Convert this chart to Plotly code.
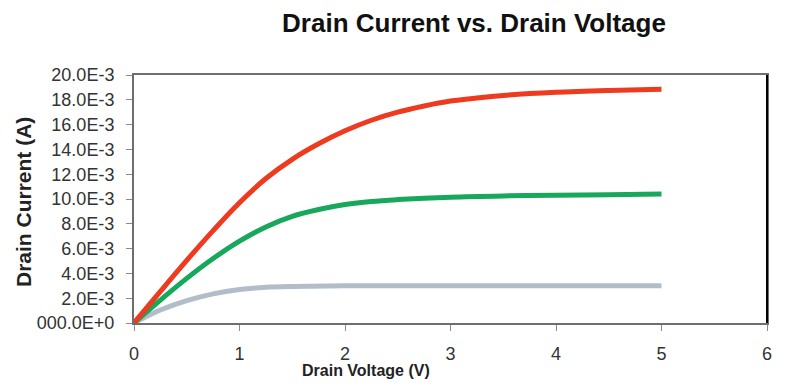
import plotly.graph_objects as go

# Drain voltage (V) and drain current (A) for three curves
voltage_red = [0, 0.25, 0.5, 0.75, 1.0, 1.25, 1.5, 1.75, 2.0, 2.25, 2.5, 2.75, 3.0, 3.25, 3.5, 4.0, 4.5, 5.0]
current_red = [0, 2.55e-3, 5.05e-3, 7.45e-3, 9.7e-3, 11.65e-3, 13.2e-3, 14.45e-3, 15.5e-3, 16.35e-3,
               17.0e-3, 17.5e-3, 17.9e-3, 18.15e-3, 18.35e-3, 18.6e-3, 18.75e-3, 18.85e-3]

voltage_green = [0, 0.25, 0.5, 0.75, 1.0, 1.25, 1.5, 1.75, 2.0, 2.25, 2.5, 3.0, 3.5, 4.0, 4.5, 5.0]
current_green = [0, 1.85e-3, 3.6e-3, 5.2e-3, 6.6e-3, 7.75e-3, 8.6e-3, 9.15e-3, 9.55e-3, 9.8e-3,
                 9.95e-3, 10.15e-3, 10.25e-3, 10.3e-3, 10.35e-3, 10.4e-3]

voltage_gray = [0, 0.1, 0.25, 0.5, 0.75, 1.0, 1.25, 1.5, 2.0, 3.0, 4.0, 5.0]
current_gray = [0, 0.45e-3, 1.05e-3, 1.8e-3, 2.35e-3, 2.7e-3, 2.88e-3, 2.95e-3, 3.0e-3, 3.0e-3, 3.0e-3, 3.0e-3]

y_tick_values = [0, 2e-3, 4e-3, 6e-3, 8e-3, 10e-3, 12e-3, 14e-3, 16e-3, 18e-3, 20e-3]
y_tick_labels = ["000.0E+0", "2.0E-3", "4.0E-3", "6.0E-3", "8.0E-3", "10.0E-3",
                 "12.0E-3", "14.0E-3", "16.0E-3", "18.0E-3", "20.0E-3"]
x_tick_values = [0, 1, 2, 3, 4, 5, 6]
x_tick_labels = ["0", "1", "2", "3", "4", "5", "6"]

fig = go.Figure()
series = [
    (voltage_gray, current_gray, "#b3bdca"),
    (voltage_green, current_green, "#17a85b"),
    (voltage_red, current_red, "#ee3a1e"),
]
for xs, ys, col in series:
    fig.add_trace(go.Scatter(x=xs, y=ys, mode="lines",
                             line=dict(color=col, width=5, shape="spline", smoothing=1.0),
                             showlegend=False, hoverinfo="skip"))

tick_font = dict(family="Liberation Sans, Arial, sans-serif", size=18, color="#333333")

fig.update_layout(
    width=788, height=392,
    margin=dict(l=134, r=21, t=75, b=69),
    paper_bgcolor="white", plot_bgcolor="white",
    title=dict(text="<b>Drain Current vs. Drain Voltage</b>",
               font=dict(family="Liberation Sans, Arial, sans-serif", size=26, color="#111111"),
               x=474 / 788, xanchor="center", y=1 - 23 / 392, yanchor="middle"),
    xaxis=dict(range=[0, 6], tickvals=x_tick_values, ticktext=x_tick_labels,
               showgrid=False, zeroline=False,
               showline=True, linecolor="#6e6e6e", linewidth=2, mirror=True,
               ticks="outside", ticklen=6, tickcolor="#8a8a8a", tickwidth=1,
               tickfont=tick_font, ticklabelstandoff=7),
    yaxis=dict(range=[0, 20e-3], tickvals=y_tick_values, ticktext=y_tick_labels,
               showgrid=False, zeroline=False,
               showline=True, linecolor="#6e6e6e", linewidth=2, mirror=True,
               ticks="outside", ticklen=6, tickcolor="#8a8a8a", tickwidth=1,
               tickfont=tick_font, ticklabelstandoff=8),
    annotations=[
        dict(text="<b>Drain Voltage (V)</b>", xref="paper", yref="paper",
             x=(366 - 134) / 633, y=-(370 - 323) / 248, xanchor="center", yanchor="middle",
             showarrow=False,
             font=dict(family="Liberation Sans, Arial, sans-serif", size=16, color="#222222")),
        dict(text="<b>Drain Current (A)</b>", xref="paper", yref="paper",
             x=-(134 - 23) / 633, y=(323 - 202) / 248, xanchor="center", yanchor="middle",
             textangle=-90, showarrow=False,
             font=dict(family="Liberation Sans, Arial, sans-serif", size=21, color="#222222")),
    ],
    shapes=[dict(type="line", xref="paper", yref="paper", x0=1, x1=1, y0=0, y1=1,
                 line=dict(color="#000000", width=2))],
)

fig.write_html("out.html", config={"displayModeBar": False},
               post_script="document.body.style.margin='0';")
